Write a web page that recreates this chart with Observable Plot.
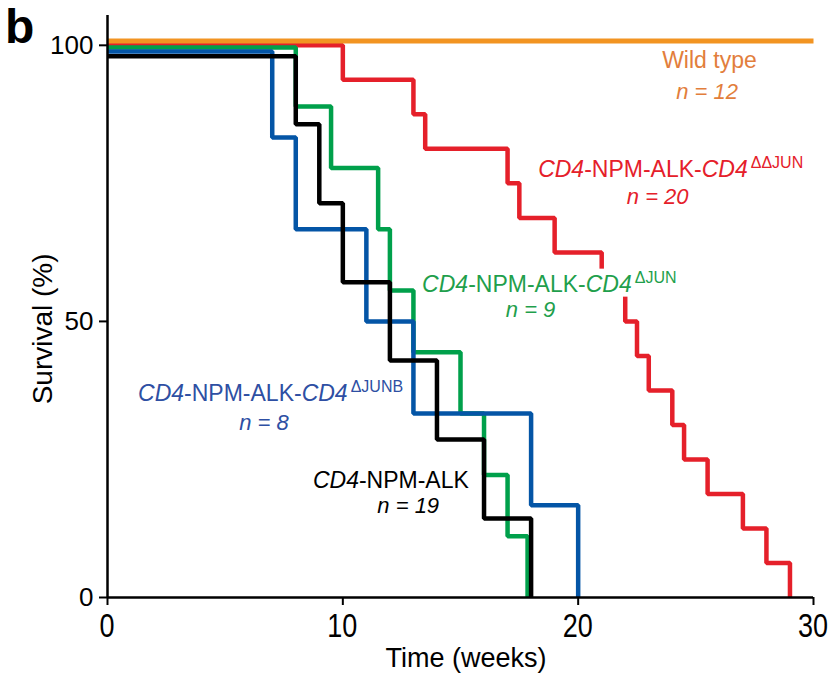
<!DOCTYPE html>
<html>
<head>
<meta charset="utf-8">
<script src="https://cdn.jsdelivr.net/npm/d3@7"></script>
<script src="https://cdn.jsdelivr.net/npm/@observablehq/plot@0.6"></script>
<style>
  html, body { margin: 0; padding: 0; background: #fff; }
  #chart { width: 831px; height: 678px; }
</style>
</head>
<body>
<div id="chart"></div>
<script>
// ---- Data ----
const xTicks = [0, 10, 20, 30];
const yTicks = [0, 50, 100];
const xTitle = "Time (weeks)";
const yTitle = "Survival (%)";

const wtTime = [0, 30];
const wtSurv = [100.8, 100.8];

const djunTime = [0, 10, 13, 13.5, 17, 17.5, 19, 21, 22, 22.5, 23, 24, 24.5, 25.5, 27, 28, 29];
const djunSurv = [100, 93.75, 87.5, 81.25, 75, 68.75, 62.5, 56.25, 50, 43.75, 37.5, 31.25, 25, 18.75, 12.5, 6.25, 0];

const junTime = [0, 8, 9.5, 11.5, 12, 13, 15, 16, 17, 17.85];
const junSurv = [99.6, 88.9, 77.8, 66.7, 55.6, 44.4, 33.3, 22.2, 11.1, 0];

const junbTime = [0, 7, 8, 11, 13, 18, 20];
const junbSurv = [98.9, 83.3, 66.7, 50, 33.3, 16.7, 0];

const alkTime = [0, 8, 9, 10, 12, 14, 16, 18];
const alkSurv = [98, 85.7, 71.4, 57.1, 42.9, 28.6, 14.3, 0];

const seriesNames = ["Wild type", "DDJUN", "DJUN", "DJUNB", "NPM-ALK"];
const seriesColors = ["#F29422", "#E5202A", "#00A04B", "#0455A6", "#000000"];
const textColors = ["#E27E3C", "#E5202A", "#1F9F4C", "#2E4FA3", "#000000"];

function toRows(name, ts, ss) { return ts.map((t, i) => ({series: name, t, s: ss[i]})); }
const rows = {
  "Wild type": toRows("Wild type", wtTime, wtSurv),
  "DDJUN": toRows("DDJUN", djunTime, djunSurv),
  "DJUN": toRows("DJUN", junTime, junSurv),
  "DJUNB": toRows("DJUNB", junbTime, junbSurv),
  "NPM-ALK": toRows("NPM-ALK", alkTime, alkSurv)
};

const drawOrder = ["DDJUN", "DJUN", "DJUNB", "NPM-ALK", "Wild type"];

const chart = Plot.plot({
  width: 831,
  height: 678,
  marginLeft: 107,
  marginRight: 18,
  marginTop: 15,
  marginBottom: 81,
  style: {fontFamily: "'Liberation Sans', Arial, sans-serif", fontSize: "26px", color: "#000", background: "#fff"},
  x: {domain: [0, 30]},
  y: {domain: [0, 105.4]},
  color: {domain: seriesNames, range: seriesColors},
  marks: [
    Plot.axisY({ticks: yTicks, tickSize: 8, tickPadding: 6, strokeWidth: 2, fontSize: 26, label: null}),
    Plot.axisX({ticks: xTicks, tickSize: 8, strokeWidth: 2, tickFormat: () => "", label: null}),
    ...drawOrder.map(name => Plot.line(rows[name], {
      x: "t", y: "s", stroke: "series", curve: "step-after",
      strokeWidth: name === "Wild type" ? 5 : 4.5,
      strokeLinejoin: "miter", strokeLinecap: "butt"
    })),
    Plot.ruleX([0], {strokeWidth: 2.5}),
    Plot.ruleY([0], {strokeWidth: 2.5})
  ]
});

document.getElementById("chart").appendChild(chart);

const xs = chart.scale("x"), ys = chart.scale("y");
const svg = d3.select(chart);
const ff = "'Liberation Sans', Arial, sans-serif";

// x tick labels (slightly tall glyphs as in the reference)
const xBase = ys.apply(0);
xTicks.forEach(v => {
  svg.append("text")
    .attr("transform", `translate(${xs.apply(v)},${xBase + 40}) scale(1,1.2)`)
    .attr("text-anchor", "middle").attr("font-family", ff).attr("font-size", 27)
    .attr("fill", "#000").text(v);
});

// axis titles
const xMid = (xs.range[0] + xs.range[1]) / 2;
svg.append("text").attr("x", xMid + 6).attr("y", xBase + 70)
  .attr("text-anchor", "middle").attr("font-family", ff).attr("font-size", 27)
  .attr("fill", "#000").text(xTitle);
svg.append("text")
  .attr("transform", `translate(52,${ys.apply(50) + 8}) rotate(-90)`)
  .attr("text-anchor", "middle").attr("font-family", ff).attr("font-size", 28)
  .attr("fill", "#000").text(yTitle);

// ---- Rich-text labels positioned through the plot's scales ----
const labelFont = 23, supFont = 16, nFont = 22;

function addLabel(spec) {
  const g = svg.append("g");
  const bg = spec.box ? g.append("rect").attr("fill", "#fff") : null;
  const t = g.append("text")
    .attr("x", xs.apply(spec.x)).attr("y", ys.apply(spec.y))
    .attr("fill", spec.color).attr("font-size", spec.size || labelFont)
    .attr("font-family", ff)
    .attr("text-anchor", spec.anchor || "start");
  spec.parts.forEach(p => {
    const ts = t.append("tspan").text(p.text);
    if (p.italic) ts.attr("font-style", "italic");
    if (p.sup) ts.attr("font-size", supFont).attr("dy", -9).attr("dx", 3);
  });
  if (bg) {
    const b = t.node().getBBox();
    bg.attr("x", b.x - 2).attr("y", b.y).attr("width", b.width + 4).attr("height", b.height);
  }
}

const labels = [
  {x: 25.6, y: 95.8, anchor: "middle", color: textColors[0], parts: [{text: "Wild type"}]},
  {x: 25.5, y: 90.2, anchor: "middle", color: textColors[0], size: nFont, parts: [{text: "n = 12", italic: true}]},
  {x: 18.32, y: 76.1, color: textColors[1], parts: [{text: "CD4", italic: true}, {text: "-NPM-ALK-"}, {text: "CD4", italic: true}, {text: "ΔΔJUN", sup: true}]},
  {x: 23.4, y: 71.2, anchor: "middle", color: textColors[1], size: nFont, parts: [{text: "n = 20", italic: true}]},
  {x: 13.39, y: 55.3, color: textColors[2], box: true, parts: [{text: "CD4", italic: true}, {text: "-NPM-ALK-"}, {text: "CD4", italic: true}, {text: "ΔJUN", sup: true}]},
  {x: 18.0, y: 50.7, anchor: "middle", color: textColors[2], size: nFont, parts: [{text: "n = 9", italic: true}]},
  {x: 1.32, y: 35.5, color: textColors[3], parts: [{text: "CD4", italic: true}, {text: "-NPM-ALK-"}, {text: "CD4", italic: true}, {text: "ΔJUNB", sup: true}]},
  {x: 6.67, y: 30.3, anchor: "middle", color: textColors[3], size: nFont, parts: [{text: "n = 8", italic: true}]},
  {x: 8.75, y: 19.7, color: textColors[4], parts: [{text: "CD4", italic: true}, {text: "-NPM-ALK"}]},
  {x: 12.8, y: 15.2, anchor: "middle", color: textColors[4], size: nFont, parts: [{text: "n = 19", italic: true}]}
];
labels.forEach(addLabel);

// panel letter
svg.append("text").attr("x", 5).attr("y", 43).attr("text-anchor", "start")
  .attr("font-family", ff).attr("font-size", 48).attr("font-weight", "bold")
  .attr("fill", "#000").text("b");
</script>
</body>
</html>
